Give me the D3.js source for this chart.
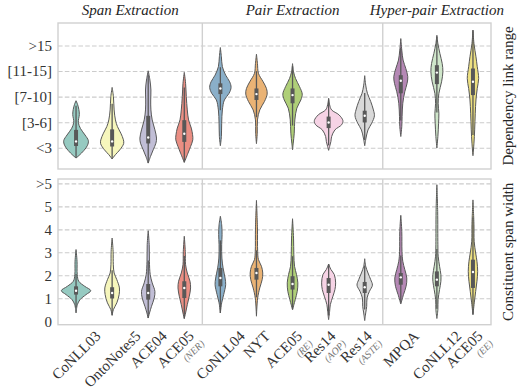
<!DOCTYPE html>
<html><head><meta charset="utf-8">
<script src="https://cdn.jsdelivr.net/npm/d3@7"></script>
<style>body{margin:0;background:#fff} svg{display:block}</style>
</head><body>
<svg id="chart" width="517" height="389"></svg>
<script>
// ---------- data ----------
const categories = ["CoNLL03","OntoNotes5","ACE04","ACE05","CoNLL04","NYT","ACE05","Res14","Res14","MPQA","CoNLL12","ACE05"];
const subLabels  = ["","","","(NER)","","","(RE)","(AOP)","(ASTE)","","","(EE)"];
const groups     = ["Span Extraction","Pair Extraction","Hyper-pair Extraction"];
const groupSizes = [4,5,3];
const colors = ["#96cac1","#f6f6bc","#c1bed6","#ea8e83","#8aafc9","#eab375","#afcf78","#f6d3e5","#d9d9d9","#b588b5","#cfe6ca","#ede081"];

const depTickLabels  = ["<3","[3-6]","[7-10]","[11-15]",">15"];
const spanTickLabels = ["0","1","2","3","4","5",">5"];

// box stats [q1, median, q3]
const depBoxes = [[0.07,0.25,0.70],[0.05,0.25,0.72],[0.17,0.40,1.25],[0.23,0.55,1.08],
  [2.10,2.32,2.52],[1.87,2.10,2.32],[1.74,2.06,2.32],[0.77,0.99,1.22],[0.99,1.25,1.45],
  [2.13,2.62,2.84],[2.49,2.94,3.23],[2.06,2.58,3.10]];
const spanBoxes = [[1.16,1.33,1.52],[0.99,1.23,1.48],[0.94,1.23,1.62],[1.01,1.45,1.74],
  [1.52,1.88,2.32],[1.81,2.10,2.32],[1.38,1.62,1.96],[1.23,1.59,1.88],[1.23,1.48,1.71],
  [1.59,1.91,2.10],[1.52,1.81,2.17],[1.45,2.14,2.68]];

// density profiles [value, density]
const depShapes = [
  [[1.84,0],[1.7,1.5],[1.5,2.8],[1.3,3.3],[1.0,2.3],[0.75,4.5],[0.5,9],[0.28,12.3],[0.1,11.5],[-0.1,8],[-0.3,3],[-0.4,0]],
  [[2.36,0],[2.0,1.3],[1.48,2],[1.09,3.3],[0.83,5.3],[0.57,8.7],[0.31,11.3],[0.16,11.5],[-0.08,7.7],[-0.27,3.3],[-0.44,0]],
  [[3.01,0],[2.65,1.7],[2.26,2.7],[1.87,2.5],[1.48,2.7],[1.09,4],[0.70,6.7],[0.38,8.3],[0.18,7.7],[-0.08,5],[-0.34,2.3],[-0.60,0]],
  [[2.95,0],[2.52,1.3],[2.0,2],[1.48,3],[1.09,4.3],[0.77,7],[0.51,8.3],[0.31,8.5],[0.05,6.3],[-0.21,3.7],[-0.57,0]],
  [[3.92,0],[3.56,1],[3.17,2],[2.84,5.3],[2.58,9.3],[2.36,10.7],[2.13,8.7],[1.87,4],[1.48,2],[0.96,1.3],[0.44,1],[0.08,0]],
  [[3.66,0],[3.3,1],[2.91,2],[2.58,6.7],[2.32,10],[2.10,10.7],[1.81,8],[1.48,3.3],[1.09,1],[0.57,0.8],[0.16,0]],
  [[3.29,0],[2.97,1],[2.71,3],[2.39,7],[2.10,9.7],[1.87,8.3],[1.55,4.3],[1.09,2.3],[0.57,1.7],[0.18,0.7],[-0.08,0]],
  [[1.94,0],[1.68,1],[1.48,3],[1.29,10.3],[1.06,14.3],[0.90,13],[0.70,6.3],[0.44,3],[0.25,2.3],[0.05,1],[-0.10,0]],
  [[2.82,0],[2.45,1],[2.13,2.7],[1.81,6],[1.48,8.7],[1.25,9.7],[0.96,7],[0.70,3.3],[0.38,1.3],[0.08,0]],
  [[4.27,0],[3.82,1],[3.43,2.3],[3.10,5],[2.78,7],[2.52,6.3],[2.19,4],[1.74,2],[1.22,1.3],[0.83,1],[0.44,0]],
  [[4.40,0],[4.08,1],[3.69,3],[3.30,5.3],[2.97,6],[2.58,4.7],[2.13,2],[1.74,1.3],[1.35,2],[0.96,1.7],[0.44,1],[-0.01,0]],
  [[4.60,0],[4.08,1],[3.56,3],[3.17,4.3],[2.71,5.7],[2.32,4.3],[1.87,3],[1.35,2.3],[0.70,1.7],[0.18,1],[-0.31,0]]
];
const spanShapes = [
  [[3.12,0],[2.61,1],[2.03,1.2],[1.74,2.7],[1.52,8.7],[1.33,14.7],[1.16,10],[0.94,4],[0.72,1.3],[0.36,0]],
  [[3.62,0],[3.04,1],[2.46,1.2],[2.10,2],[1.81,4.7],[1.45,7.3],[1.16,7],[0.80,4.7],[0.51,1.3],[0.26,0]],
  [[3.94,0],[3.33,1],[2.61,1.2],[2.03,2],[1.67,4],[1.30,6.7],[1.01,6],[0.65,3.3],[0.36,1.3],[0.14,0]],
  [[3.70,0],[3.04,1],[2.46,1.3],[2.10,3],[1.74,5.7],[1.45,6.3],[1.09,5],[0.72,3],[0.36,1.3],[0.12,0]],
  [[4.57,0],[4.20,1.3],[3.77,1.7],[3.33,1.3],[2.75,1.5],[2.32,2.7],[1.88,4.7],[1.59,5.3],[1.16,3.3],[0.80,1.3],[0.36,0]],
  [[5.26,0],[4.06,1],[3.04,1.2],[2.68,2],[2.39,5],[2.10,6.3],[1.81,5.7],[1.45,3.3],[1.01,1.2],[0.22,0]],
  [[4.46,0],[3.62,1],[2.90,1.3],[2.39,2],[2.03,4],[1.67,5.3],[1.30,4.7],[0.94,2.7],[0.51,0]],
  [[2.49,0],[2.25,2.3],[2.03,5.7],[1.67,7],[1.38,6.3],[1.09,4.3],[0.72,1.7],[0.43,1],[0.07,0]],
  [[2.72,0],[2.39,1],[2.10,3.3],[1.81,6],[1.57,7.7],[1.30,4.7],[1.01,2.3],[0.65,2],[0.36,1],[0.03,0]],
  [[4.61,0],[3.91,1],[3.04,1.2],[2.61,2],[2.25,4],[1.88,6],[1.52,5.3],[1.16,2.7],[0.75,0]],
  [[5.94,0],[4.78,0.8],[3.33,1],[2.83,1.3],[2.39,2.7],[2.03,4],[1.74,4],[1.38,2.7],[0.94,1.2],[0.51,1],[0.12,0]],
  [[5.28,0],[4.20,1],[3.48,1.2],[2.97,2.7],[2.61,4],[2.17,4.7],[1.74,4],[1.30,2.7],[0.80,1.3],[0.29,0]]
];

// ---------- layout ----------
const svg = d3.select("#chart");
const FONT = "'Liberation Serif','Times New Roman',serif";
const L = 58, R = 491;
const x = d3.scaleBand().domain(d3.range(categories.length)).range([L, R]).padding(0);
const cx = i => x(i) + x.bandwidth() / 2;
const wScale = d3.scaleLinear().domain([0, 15]).range([0, 15]);
const yTop = d3.scaleLinear().domain([-0.83, 4.88]).range([169, 23]);
const yBot = d3.scaleLinear().domain([-0.15, 6.19]).range([324.7, 179]);
const lineCol = "#585858";
const frameCol = "#d0d0d0";

const panels = [
  {y: yTop, shapes: depShapes, boxes: depBoxes, ticks: depTickLabels, label: "Dependency link range", gridFrom: 0},
  {y: yBot, shapes: spanShapes, boxes: spanBoxes, ticks: spanTickLabels, label: "Constituent span width", gridFrom: 1}
];

const bounds = [];
let acc = 0;
groupSizes.forEach(s => { bounds.push([acc, acc + s - 1]); acc += s; });

panels.forEach(p => {
  const y = p.y;
  const [yb, yt] = y.range();
  const g = svg.append("g");

  const gridAxis = d3.axisLeft(y).tickValues(d3.range(p.gridFrom, p.ticks.length))
    .tickSize(-(R - L)).tickFormat("");
  const gg = g.append("g").attr("transform", `translate(${L},0)`).call(gridAxis);
  gg.select(".domain").remove();
  gg.selectAll("line").attr("stroke", "#cccccc").attr("stroke-width", 1.1).attr("stroke-dasharray", "4.6,2.2");

  const tickAxis = d3.axisLeft(y).tickValues(d3.range(p.ticks.length))
    .tickSize(0).tickPadding(6).tickFormat(i => p.ticks[i]);
  const ta = g.append("g").attr("transform", `translate(${L},0)`).call(tickAxis);
  ta.select(".domain").remove();
  ta.selectAll("text").attr("font-family", FONT).attr("font-size", 15).attr("fill", "#333");

  p.shapes.forEach((shape, i) => {
    const c = cx(i);
    const area = d3.area().curve(d3.curveCatmullRom.alpha(0.5))
      .y(d => y(d[0])).x0(d => c - wScale(d[1])).x1(d => c + wScale(d[1]));
    g.append("path").attr("d", area(shape))
      .attr("fill", colors[i]).attr("stroke", lineCol).attr("stroke-width", 1);
    const [q1, med, q3] = p.boxes[i];
    const vmax = d3.max(shape, d => d[0]), vmin = d3.min(shape, d => d[0]);
    const iqr = q3 - q1;
    const hi = Math.min(vmax, q3 + 1.5 * iqr), lo = Math.max(vmin, q1 - 1.5 * iqr);
    g.append("line").attr("x1", c).attr("x2", c).attr("y1", y(lo)).attr("y2", y(hi))
      .attr("stroke", lineCol).attr("stroke-width", 1.3);
    g.append("line").attr("x1", c).attr("x2", c).attr("y1", y(q1)).attr("y2", y(q3))
      .attr("stroke", lineCol).attr("stroke-width", 4);
    g.append("circle").attr("cx", c).attr("cy", y(med)).attr("r", 1.2).attr("fill", "#fff");
  });

  g.append("rect").attr("x", L).attr("y", yt).attr("width", R - L).attr("height", yb - yt)
    .attr("fill", "none").attr("stroke", frameCol).attr("stroke-width", 1.4);
  bounds.slice(1).forEach(b => {
    const bx = x(b[0]);
    g.append("line").attr("x1", bx).attr("x2", bx).attr("y1", yt).attr("y2", yb)
      .attr("stroke", frameCol).attr("stroke-width", 1.4);
  });

  svg.append("text").attr("transform", `translate(513,${(yt + yb) / 2}) rotate(-90)`)
    .attr("text-anchor", "middle").attr("font-family", FONT).attr("font-size", 15)
    .attr("fill", "#262626").text(p.label);
});

groups.forEach((t, k) => {
  const b = bounds[k];
  const mid = (x(b[0]) + x(b[1]) + x.bandwidth()) / 2;
  svg.append("text").attr("x", mid).attr("y", 15).attr("text-anchor", "middle")
    .attr("font-family", FONT).attr("font-size", 15).attr("font-style", "italic")
    .attr("fill", "#262626").text(t);
});

categories.forEach((name, i) => {
  const g = svg.append("g");
  const t = g.append("text").attr("text-anchor", "middle").attr("dy", "0.35em")
    .attr("font-family", FONT).attr("font-size", 15).attr("fill", "#333").text(name);
  const len = t.node().getComputedTextLength();
  const sub = subLabels[i];
  const px = cx(i) - (sub ? 9 : 0);
  const py = 329 + (len + 12) * 0.354;
  g.attr("transform", `translate(${px},${py}) rotate(-45)`);
  if (sub) {
    g.append("text").attr("x", len / 2 + 2).attr("y", 14).attr("dy", "0.35em")
      .attr("text-anchor", "end").attr("font-family", FONT).attr("font-size", 10)
      .attr("font-style", "italic").attr("fill", "#777").text(sub);
  }
});
</script>
</body></html>
